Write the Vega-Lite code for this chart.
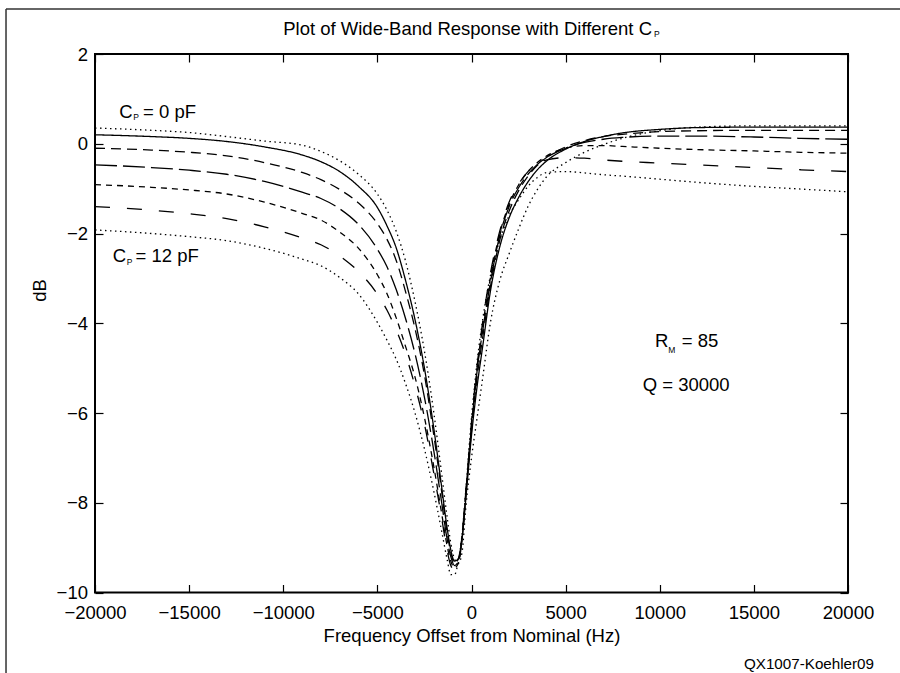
{
"$schema": "https://vega.github.io/schema/vega-lite/v6.json",
"width": 753, "height": 538.5,
"autosize": {"type": "none"},
"padding": {"left": 95, "top": 54, "right": 52, "bottom": 80.5},
"background": "white",
"config": {
  "view": {"stroke": "#000", "strokeWidth": 2},
  "font": "Liberation Sans",
  "axis": {"labelFont": "Liberation Sans", "titleFont": "Liberation Sans", "labelColor": "#000", "titleColor": "#000", "tickColor": "#000", "grid": false, "domain": false, "tickSize": -8, "tickWidth": 1.2, "labelFontSize": 18.5, "titleFontSize": 18.5, "titleFontWeight": "normal", "labelFlush": false, "labelOverlap": false, "labelBound": false}
},
"datasets": {
"curves": [
{"cp":"0 pF","f":-20000,"db":0.35},{"cp":"0 pF","f":-17000,"db":0.30},{"cp":"0 pF","f":-15000,"db":0.25},{"cp":"0 pF","f":-13000,"db":0.16},{"cp":"0 pF","f":-11000,"db":0.06},{"cp":"0 pF","f":-9000,"db":-0.03},{"cp":"0 pF","f":-8000,"db":-0.17},{"cp":"0 pF","f":-7000,"db":-0.38},{"cp":"0 pF","f":-6000,"db":-0.68},{"cp":"0 pF","f":-5000,"db":-1.12},{"cp":"0 pF","f":-4500,"db":-1.47},{"cp":"0 pF","f":-4000,"db":-1.95},{"cp":"0 pF","f":-3500,"db":-2.62},{"cp":"0 pF","f":-3000,"db":-3.52},{"cp":"0 pF","f":-2500,"db":-4.62},{"cp":"0 pF","f":-2000,"db":-6.0},{"cp":"0 pF","f":-1600,"db":-7.3},{"cp":"0 pF","f":-1300,"db":-8.3},{"cp":"0 pF","f":-1100,"db":-8.9},{"cp":"0 pF","f":-900,"db":-9.25},{"cp":"0 pF","f":-700,"db":-9.35},{"cp":"0 pF","f":-500,"db":-9.1},{"cp":"0 pF","f":-300,"db":-8.1},{"cp":"0 pF","f":0,"db":-7.0},{"cp":"0 pF","f":300,"db":-6.1},{"cp":"0 pF","f":600,"db":-5.2},{"cp":"0 pF","f":1000,"db":-4.0},{"cp":"0 pF","f":1500,"db":-3.05},{"cp":"0 pF","f":2000,"db":-2.45},{"cp":"0 pF","f":2500,"db":-1.9},{"cp":"0 pF","f":3000,"db":-1.4},{"cp":"0 pF","f":3500,"db":-1.02},{"cp":"0 pF","f":4000,"db":-0.73},{"cp":"0 pF","f":5000,"db":-0.42},{"cp":"0 pF","f":6000,"db":-0.19},{"cp":"0 pF","f":7000,"db":-0.02},{"cp":"0 pF","f":8000,"db":0.12},{"cp":"0 pF","f":10000,"db":0.29},{"cp":"0 pF","f":12000,"db":0.37},{"cp":"0 pF","f":15000,"db":0.40},{"cp":"0 pF","f":17500,"db":0.40},{"cp":"0 pF","f":20000,"db":0.40},
{"cp":"2 pF","f":-20000,"db":0.20},{"cp":"2 pF","f":-17000,"db":0.16},{"cp":"2 pF","f":-15000,"db":0.12},{"cp":"2 pF","f":-13000,"db":0.05},{"cp":"2 pF","f":-11000,"db":-0.07},{"cp":"2 pF","f":-9000,"db":-0.25},{"cp":"2 pF","f":-8000,"db":-0.40},{"cp":"2 pF","f":-7000,"db":-0.62},{"cp":"2 pF","f":-6000,"db":-0.95},{"cp":"2 pF","f":-5000,"db":-1.42},{"cp":"2 pF","f":-4500,"db":-1.82},{"cp":"2 pF","f":-4000,"db":-2.32},{"cp":"2 pF","f":-3500,"db":-3.05},{"cp":"2 pF","f":-3000,"db":-3.92},{"cp":"2 pF","f":-2500,"db":-5.0},{"cp":"2 pF","f":-2000,"db":-6.35},{"cp":"2 pF","f":-1600,"db":-7.6},{"cp":"2 pF","f":-1300,"db":-8.55},{"cp":"2 pF","f":-1100,"db":-9.05},{"cp":"2 pF","f":-900,"db":-9.3},{"cp":"2 pF","f":-700,"db":-9.25},{"cp":"2 pF","f":-500,"db":-8.8},{"cp":"2 pF","f":-300,"db":-7.9},{"cp":"2 pF","f":0,"db":-6.5},{"cp":"2 pF","f":300,"db":-5.4},{"cp":"2 pF","f":600,"db":-4.5},{"cp":"2 pF","f":1000,"db":-3.3},{"cp":"2 pF","f":1500,"db":-2.3},{"cp":"2 pF","f":2000,"db":-1.65},{"cp":"2 pF","f":2500,"db":-1.2},{"cp":"2 pF","f":3000,"db":-0.85},{"cp":"2 pF","f":3500,"db":-0.58},{"cp":"2 pF","f":4000,"db":-0.38},{"cp":"2 pF","f":5000,"db":-0.12},{"cp":"2 pF","f":6000,"db":0.05},{"cp":"2 pF","f":7000,"db":0.16},{"cp":"2 pF","f":8000,"db":0.24},{"cp":"2 pF","f":10000,"db":0.32},{"cp":"2 pF","f":12000,"db":0.36},{"cp":"2 pF","f":15000,"db":0.37},{"cp":"2 pF","f":17500,"db":0.37},{"cp":"2 pF","f":20000,"db":0.37},
{"cp":"4 pF","f":-20000,"db":-0.10},{"cp":"4 pF","f":-17000,"db":-0.14},{"cp":"4 pF","f":-15000,"db":-0.19},{"cp":"4 pF","f":-13000,"db":-0.27},{"cp":"4 pF","f":-11000,"db":-0.42},{"cp":"4 pF","f":-9000,"db":-0.64},{"cp":"4 pF","f":-8000,"db":-0.80},{"cp":"4 pF","f":-7000,"db":-1.02},{"cp":"4 pF","f":-6000,"db":-1.32},{"cp":"4 pF","f":-5000,"db":-1.78},{"cp":"4 pF","f":-4500,"db":-2.12},{"cp":"4 pF","f":-4000,"db":-2.6},{"cp":"4 pF","f":-3500,"db":-3.3},{"cp":"4 pF","f":-3000,"db":-4.12},{"cp":"4 pF","f":-2500,"db":-5.15},{"cp":"4 pF","f":-2000,"db":-6.5},{"cp":"4 pF","f":-1600,"db":-7.7},{"cp":"4 pF","f":-1300,"db":-8.65},{"cp":"4 pF","f":-1100,"db":-9.1},{"cp":"4 pF","f":-900,"db":-9.35},{"cp":"4 pF","f":-700,"db":-9.25},{"cp":"4 pF","f":-500,"db":-8.75},{"cp":"4 pF","f":-300,"db":-7.8},{"cp":"4 pF","f":0,"db":-6.4},{"cp":"4 pF","f":300,"db":-5.2},{"cp":"4 pF","f":600,"db":-4.3},{"cp":"4 pF","f":1000,"db":-3.2},{"cp":"4 pF","f":1500,"db":-2.15},{"cp":"4 pF","f":2000,"db":-1.5},{"cp":"4 pF","f":2500,"db":-1.05},{"cp":"4 pF","f":3000,"db":-0.72},{"cp":"4 pF","f":3500,"db":-0.48},{"cp":"4 pF","f":4000,"db":-0.3},{"cp":"4 pF","f":5000,"db":-0.07},{"cp":"4 pF","f":6000,"db":0.07},{"cp":"4 pF","f":7000,"db":0.16},{"cp":"4 pF","f":8000,"db":0.21},{"cp":"4 pF","f":10000,"db":0.27},{"cp":"4 pF","f":12000,"db":0.29},{"cp":"4 pF","f":15000,"db":0.30},{"cp":"4 pF","f":17500,"db":0.30},{"cp":"4 pF","f":20000,"db":0.30},
{"cp":"6 pF","f":-20000,"db":-0.47},{"cp":"6 pF","f":-17000,"db":-0.53},{"cp":"6 pF","f":-15000,"db":-0.59},{"cp":"6 pF","f":-13000,"db":-0.68},{"cp":"6 pF","f":-11000,"db":-0.84},{"cp":"6 pF","f":-9000,"db":-1.08},{"cp":"6 pF","f":-8000,"db":-1.22},{"cp":"6 pF","f":-7000,"db":-1.45},{"cp":"6 pF","f":-6000,"db":-1.80},{"cp":"6 pF","f":-5000,"db":-2.35},{"cp":"6 pF","f":-4500,"db":-2.73},{"cp":"6 pF","f":-4000,"db":-3.25},{"cp":"6 pF","f":-3500,"db":-3.9},{"cp":"6 pF","f":-3000,"db":-4.68},{"cp":"6 pF","f":-2500,"db":-5.65},{"cp":"6 pF","f":-2000,"db":-6.85},{"cp":"6 pF","f":-1600,"db":-7.95},{"cp":"6 pF","f":-1300,"db":-8.8},{"cp":"6 pF","f":-1100,"db":-9.2},{"cp":"6 pF","f":-900,"db":-9.4},{"cp":"6 pF","f":-700,"db":-9.3},{"cp":"6 pF","f":-500,"db":-8.75},{"cp":"6 pF","f":-300,"db":-7.75},{"cp":"6 pF","f":0,"db":-6.3},{"cp":"6 pF","f":300,"db":-5.05},{"cp":"6 pF","f":600,"db":-4.15},{"cp":"6 pF","f":1000,"db":-3.1},{"cp":"6 pF","f":1500,"db":-2.05},{"cp":"6 pF","f":2000,"db":-1.4},{"cp":"6 pF","f":2500,"db":-0.98},{"cp":"6 pF","f":3000,"db":-0.68},{"cp":"6 pF","f":3500,"db":-0.46},{"cp":"6 pF","f":4000,"db":-0.3},{"cp":"6 pF","f":5000,"db":-0.1},{"cp":"6 pF","f":6000,"db":0.03},{"cp":"6 pF","f":7000,"db":0.1},{"cp":"6 pF","f":8000,"db":0.14},{"cp":"6 pF","f":10000,"db":0.17},{"cp":"6 pF","f":12000,"db":0.17},{"cp":"6 pF","f":15000,"db":0.15},{"cp":"6 pF","f":17500,"db":0.12},{"cp":"6 pF","f":20000,"db":0.10},
{"cp":"8 pF","f":-20000,"db":-0.91},{"cp":"8 pF","f":-17000,"db":-0.97},{"cp":"8 pF","f":-15000,"db":-1.03},{"cp":"8 pF","f":-13000,"db":-1.12},{"cp":"8 pF","f":-11000,"db":-1.3},{"cp":"8 pF","f":-9000,"db":-1.55},{"cp":"8 pF","f":-8000,"db":-1.7},{"cp":"8 pF","f":-7000,"db":-1.97},{"cp":"8 pF","f":-6000,"db":-2.33},{"cp":"8 pF","f":-5000,"db":-2.92},{"cp":"8 pF","f":-4500,"db":-3.33},{"cp":"8 pF","f":-4000,"db":-3.88},{"cp":"8 pF","f":-3500,"db":-4.52},{"cp":"8 pF","f":-3000,"db":-5.2},{"cp":"8 pF","f":-2500,"db":-6.1},{"cp":"8 pF","f":-2000,"db":-7.2},{"cp":"8 pF","f":-1600,"db":-8.2},{"cp":"8 pF","f":-1300,"db":-8.95},{"cp":"8 pF","f":-1100,"db":-9.3},{"cp":"8 pF","f":-900,"db":-9.45},{"cp":"8 pF","f":-700,"db":-9.35},{"cp":"8 pF","f":-500,"db":-8.8},{"cp":"8 pF","f":-300,"db":-7.8},{"cp":"8 pF","f":0,"db":-6.3},{"cp":"8 pF","f":300,"db":-5.0},{"cp":"8 pF","f":600,"db":-4.05},{"cp":"8 pF","f":1000,"db":-3.0},{"cp":"8 pF","f":1500,"db":-2.0},{"cp":"8 pF","f":2000,"db":-1.35},{"cp":"8 pF","f":2500,"db":-0.92},{"cp":"8 pF","f":3000,"db":-0.62},{"cp":"8 pF","f":3500,"db":-0.42},{"cp":"8 pF","f":4000,"db":-0.27},{"cp":"8 pF","f":5000,"db":-0.1},{"cp":"8 pF","f":6000,"db":-0.04},{"cp":"8 pF","f":7000,"db":-0.04},{"cp":"8 pF","f":8000,"db":-0.06},{"cp":"8 pF","f":10000,"db":-0.1},{"cp":"8 pF","f":12000,"db":-0.13},{"cp":"8 pF","f":15000,"db":-0.16},{"cp":"8 pF","f":17500,"db":-0.19},{"cp":"8 pF","f":20000,"db":-0.21},
{"cp":"10 pF","f":-20000,"db":-1.40},{"cp":"10 pF","f":-17000,"db":-1.48},{"cp":"10 pF","f":-15000,"db":-1.56},{"cp":"10 pF","f":-13000,"db":-1.67},{"cp":"10 pF","f":-11000,"db":-1.85},{"cp":"10 pF","f":-9000,"db":-2.1},{"cp":"10 pF","f":-8000,"db":-2.25},{"cp":"10 pF","f":-7000,"db":-2.5},{"cp":"10 pF","f":-6000,"db":-2.85},{"cp":"10 pF","f":-5000,"db":-3.35},{"cp":"10 pF","f":-4500,"db":-3.7},{"cp":"10 pF","f":-4000,"db":-4.15},{"cp":"10 pF","f":-3500,"db":-4.7},{"cp":"10 pF","f":-3000,"db":-5.4},{"cp":"10 pF","f":-2500,"db":-6.25},{"cp":"10 pF","f":-2000,"db":-7.35},{"cp":"10 pF","f":-1600,"db":-8.3},{"cp":"10 pF","f":-1300,"db":-9.05},{"cp":"10 pF","f":-1100,"db":-9.4},{"cp":"10 pF","f":-900,"db":-9.5},{"cp":"10 pF","f":-700,"db":-9.35},{"cp":"10 pF","f":-500,"db":-8.8},{"cp":"10 pF","f":-300,"db":-7.8},{"cp":"10 pF","f":0,"db":-6.2},{"cp":"10 pF","f":300,"db":-4.95},{"cp":"10 pF","f":600,"db":-3.95},{"cp":"10 pF","f":1000,"db":-2.9},{"cp":"10 pF","f":1500,"db":-1.95},{"cp":"10 pF","f":2000,"db":-1.3},{"cp":"10 pF","f":2500,"db":-0.9},{"cp":"10 pF","f":3000,"db":-0.62},{"cp":"10 pF","f":3500,"db":-0.45},{"cp":"10 pF","f":4000,"db":-0.36},{"cp":"10 pF","f":5000,"db":-0.31},{"cp":"10 pF","f":6000,"db":-0.32},{"cp":"10 pF","f":7000,"db":-0.36},{"cp":"10 pF","f":8000,"db":-0.39},{"cp":"10 pF","f":10000,"db":-0.43},{"cp":"10 pF","f":12000,"db":-0.47},{"cp":"10 pF","f":15000,"db":-0.53},{"cp":"10 pF","f":17500,"db":-0.58},{"cp":"10 pF","f":20000,"db":-0.62},
{"cp":"12 pF","f":-20000,"db":-1.92},{"cp":"12 pF","f":-17000,"db":-2.0},{"cp":"12 pF","f":-15000,"db":-2.07},{"cp":"12 pF","f":-13000,"db":-2.16},{"cp":"12 pF","f":-11000,"db":-2.33},{"cp":"12 pF","f":-9000,"db":-2.57},{"cp":"12 pF","f":-8000,"db":-2.72},{"cp":"12 pF","f":-7000,"db":-2.98},{"cp":"12 pF","f":-6000,"db":-3.35},{"cp":"12 pF","f":-5000,"db":-3.98},{"cp":"12 pF","f":-4500,"db":-4.37},{"cp":"12 pF","f":-4000,"db":-4.8},{"cp":"12 pF","f":-3500,"db":-5.35},{"cp":"12 pF","f":-3000,"db":-6.0},{"cp":"12 pF","f":-2500,"db":-6.8},{"cp":"12 pF","f":-2000,"db":-7.75},{"cp":"12 pF","f":-1600,"db":-8.6},{"cp":"12 pF","f":-1300,"db":-9.25},{"cp":"12 pF","f":-1100,"db":-9.6},{"cp":"12 pF","f":-900,"db":-9.6},{"cp":"12 pF","f":-700,"db":-9.3},{"cp":"12 pF","f":-500,"db":-8.7},{"cp":"12 pF","f":-300,"db":-7.7},{"cp":"12 pF","f":0,"db":-6.1},{"cp":"12 pF","f":300,"db":-4.85},{"cp":"12 pF","f":600,"db":-3.9},{"cp":"12 pF","f":1000,"db":-2.95},{"cp":"12 pF","f":1500,"db":-2.15},{"cp":"12 pF","f":2000,"db":-1.6},{"cp":"12 pF","f":2500,"db":-1.25},{"cp":"12 pF","f":3000,"db":-0.95},{"cp":"12 pF","f":3500,"db":-0.75},{"cp":"12 pF","f":4000,"db":-0.64},{"cp":"12 pF","f":5000,"db":-0.62},{"cp":"12 pF","f":6000,"db":-0.65},{"cp":"12 pF","f":7000,"db":-0.69},{"cp":"12 pF","f":8000,"db":-0.72},{"cp":"12 pF","f":10000,"db":-0.79},{"cp":"12 pF","f":12000,"db":-0.86},{"cp":"12 pF","f":15000,"db":-0.95},{"cp":"12 pF","f":17500,"db":-1.01},{"cp":"12 pF","f":20000,"db":-1.07}
],
"labels": [
{"t":"C","f":-18709,"db":0.567},{"t":"= 0 pF","f":-17450,"db":0.567},
{"t":"C","f":-19059,"db":-2.628},{"t":"= 12 pF","f":-17850,"db":-2.628},
{"t":"R","f":9748,"db":-4.523},{"t":"= 85","f":11166,"db":-4.523},
{"t":"Q = 30000","f":9094,"db":-5.51}
],
"subs": [
{"t":"P","f":-17965,"db":0.54},{"t":"P","f":-18316,"db":-2.70},{"t":"M","f":10454,"db":-4.656},{"t":"P","f":9694,"db":2.38}
],
"title": [{"t":"Plot of Wide-Band Response with Different C","f":9588,"db":2.43}],
"credit": [{"t":"QX1007-Koehler09","f":21381,"db":-11.705}],
"frame": [
{"f":-24727,"f2":24000,"db":3.003,"db2":3.003},
{"f":-24727,"f2":-24727,"db":3.003,"db2":-12.5}
],
"anchor": [{"f":0,"db":0}]
},
"layer": [
{
 "data": {"name": "curves"},
 "mark": {"type": "line", "strokeWidth": 1.3, "interpolate": "monotone", "clip": true, "color": "#000"},
 "encoding": {
  "x": {"field": "f", "type": "quantitative", "scale": {"domain": [-20000, 20000], "nice": false, "zero": false},
        "axis": {"orient": "bottom", "values": [-20000,-15000,-10000,-5000,0,5000,10000,15000,20000], "format": "d", "labelPadding": 19, "title": "Frequency Offset from Nominal (Hz)", "titleX": 376.5, "titleY": 48.5, "titleBaseline": "alphabetic", "titleAlign": "center", "titleAnchor": null}},
  "y": {"field": "db", "type": "quantitative", "scale": {"domain": [-10, 2], "nice": false, "zero": false},
        "axis": {"orient": "left", "values": [-10,-8,-6,-4,-2,0,2], "labelPadding": 15.5, "title": "dB", "titleX": -50, "titleY": 236, "titleAngle": 270, "titleBaseline": "alphabetic", "titleAlign": "center", "titleAnchor": null}},
  "strokeDash": {"field": "cp", "type": "nominal", "legend": null,
        "scale": {"domain": ["0 pF","2 pF","4 pF","6 pF","8 pF","10 pF","12 pF"], "range": [[1.5,3.5],[1,0],[10,6],[22,6],[6,5],[15,17],[1.5,3.5]]}},
  "detail": {"field": "cp"}
 }
},
{
 "data": {"name": "anchor"},
 "mark": {"type": "point", "opacity": 0},
 "encoding": {
  "x": {"field": "f", "type": "quantitative", "scale": {"domain": [-20000, 20000], "nice": false, "zero": false},
        "axis": {"orient": "top", "values": [-20000,-15000,-10000,-5000,0,5000,10000,15000,20000], "labels": false, "title": null}},
  "y": {"field": "db", "type": "quantitative", "scale": {"domain": [-10, 2], "nice": false, "zero": false},
        "axis": {"orient": "right", "values": [-10,-8,-6,-4,-2,0,2], "labels": false, "title": null}}
 }
},
{
 "data": {"name": "labels"},
 "mark": {"type": "text", "align": "left", "baseline": "alphabetic", "fontSize": 18.5, "font": "Liberation Sans", "color": "#000"},
 "encoding": {
  "x": {"field": "f", "type": "quantitative", "scale": {"domain": [-20000, 20000], "nice": false, "zero": false}, "axis": null},
  "y": {"field": "db", "type": "quantitative", "scale": {"domain": [-10, 2], "nice": false, "zero": false}, "axis": null},
  "text": {"field": "t"}
 }
},
{
 "data": {"name": "subs"},
 "mark": {"type": "text", "align": "left", "baseline": "alphabetic", "fontSize": 8.5, "font": "Liberation Sans", "color": "#000"},
 "encoding": {
  "x": {"field": "f", "type": "quantitative", "scale": {"domain": [-20000, 20000], "nice": false, "zero": false}, "axis": null},
  "y": {"field": "db", "type": "quantitative", "scale": {"domain": [-10, 2], "nice": false, "zero": false}, "axis": null},
  "text": {"field": "t"}
 }
},
{
 "data": {"name": "title"},
 "mark": {"type": "text", "align": "right", "baseline": "alphabetic", "fontSize": 18.5, "font": "Liberation Sans", "color": "#000"},
 "encoding": {
  "x": {"field": "f", "type": "quantitative", "scale": {"domain": [-20000, 20000], "nice": false, "zero": false}, "axis": null},
  "y": {"field": "db", "type": "quantitative", "scale": {"domain": [-10, 2], "nice": false, "zero": false}, "axis": null},
  "text": {"field": "t"}
 }
},
{
 "data": {"name": "credit"},
 "mark": {"type": "text", "align": "right", "baseline": "alphabetic", "fontSize": 15.2, "font": "Liberation Sans", "color": "#000"},
 "encoding": {
  "x": {"field": "f", "type": "quantitative", "scale": {"domain": [-20000, 20000], "nice": false, "zero": false}, "axis": null},
  "y": {"field": "db", "type": "quantitative", "scale": {"domain": [-10, 2], "nice": false, "zero": false}, "axis": null},
  "text": {"field": "t"}
 }
},
{
 "data": {"name": "frame"},
 "mark": {"type": "rule", "color": "#333", "strokeWidth": 1.5, "clip": false},
 "encoding": {
  "x": {"field": "f", "type": "quantitative", "scale": {"domain": [-20000, 20000], "nice": false, "zero": false}, "axis": null},
  "x2": {"field": "f2"},
  "y": {"field": "db", "type": "quantitative", "scale": {"domain": [-10, 2], "nice": false, "zero": false}, "axis": null},
  "y2": {"field": "db2"}
 }
}
],
"resolve": {"axis": {"x": "independent", "y": "independent"}}
}
